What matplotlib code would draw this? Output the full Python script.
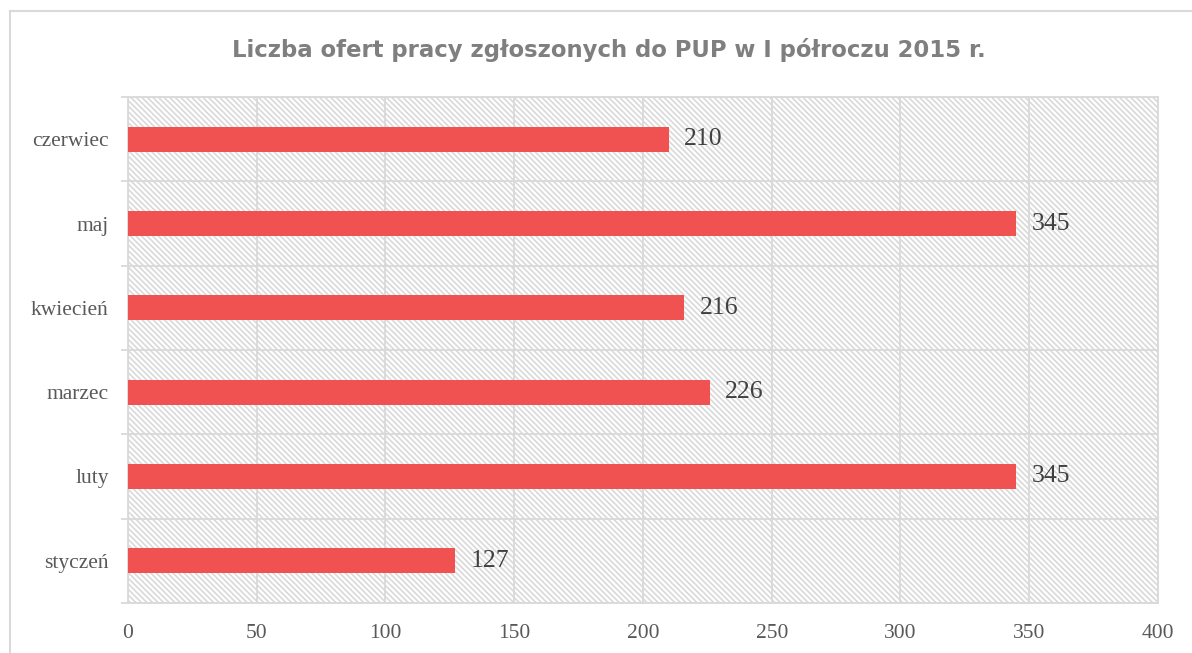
import matplotlib.pyplot as plt
from matplotlib.lines import Line2D

# data
months = ["styczeń", "luty", "marzec", "kwiecień", "maj", "czerwiec"]
offers = [127, 345, 226, 216, 345, 210]
x_ticks = [0, 50, 100, 150, 200, 250, 300, 350, 400]

title = "Liczba ofert pracy zgłoszonych do PUP w I półroczu 2015 r."
bar_color = "#F05252"
grid_color = "#D9D9D9"

plt.rcParams["hatch.linewidth"] = 1.2

fig = plt.figure(figsize=(11.92, 6.53), dpi=100)
ax = fig.add_axes([128 / 1192, 1 - 603 / 653, 1030 / 1192, 506 / 653])

# hatched plot area
ax.patch.set_facecolor("white")
ax.patch.set_hatch("\\" * 6)
ax.patch.set_edgecolor(grid_color)
ax.patch.set_linewidth(0)

pos = list(range(len(months)))
ax.barh(pos, offers, height=0.3, color=bar_color, zorder=3)

for p, v in zip(pos, offers):
    ax.annotate(str(v), (v, p), xytext=(11, 0), textcoords="offset points",
                va="center", ha="left", fontsize=18.5, color="#404040",
                family="Liberation Serif", zorder=4)

ax.set_xlim(0, 400)
ax.set_ylim(-0.5, len(months) - 0.5)
ax.set_xticks(x_ticks)
ax.set_xticklabels([str(t) for t in x_ticks])
ax.set_yticks(pos)
ax.set_yticklabels(months)
ax.set_yticks([i - 0.5 for i in range(len(months) + 1)], minor=True)

ax.tick_params(axis="both", which="major", length=0, labelsize=15.5,
               labelcolor="#595959")
ax.tick_params(axis="x", which="major", pad=15)
ax.tick_params(axis="y", which="major", pad=14)
ax.tick_params(axis="y", which="minor", length=5, color=grid_color, width=1.3)
for lab in ax.get_xticklabels() + ax.get_yticklabels():
    lab.set_family("Liberation Serif")

ax.grid(axis="x", which="major", color=grid_color, linewidth=1.3, zorder=1)
ax.grid(axis="y", which="minor", color=grid_color, linewidth=1.3, zorder=1)
ax.set_axisbelow(True)
for s in ax.spines.values():
    s.set_color(grid_color)
    s.set_linewidth(1.3)

fig.text(608.5 / 1192, 1 - 50 / 653, title, ha="center", va="center",
         fontsize=16.4, fontweight="bold", color="#7F7F7F", family="DejaVu Sans")

# outer chart border (top and left visible)
fig.add_artist(Line2D([10 / 1192, 1], [1 - 11 / 653, 1 - 11 / 653],
                      transform=fig.transFigure, color=grid_color, linewidth=1.5))
fig.add_artist(Line2D([10 / 1192, 10 / 1192], [0, 1 - 11 / 653],
                      transform=fig.transFigure, color=grid_color, linewidth=1.5))

fig.savefig("out.png", dpi=100)
